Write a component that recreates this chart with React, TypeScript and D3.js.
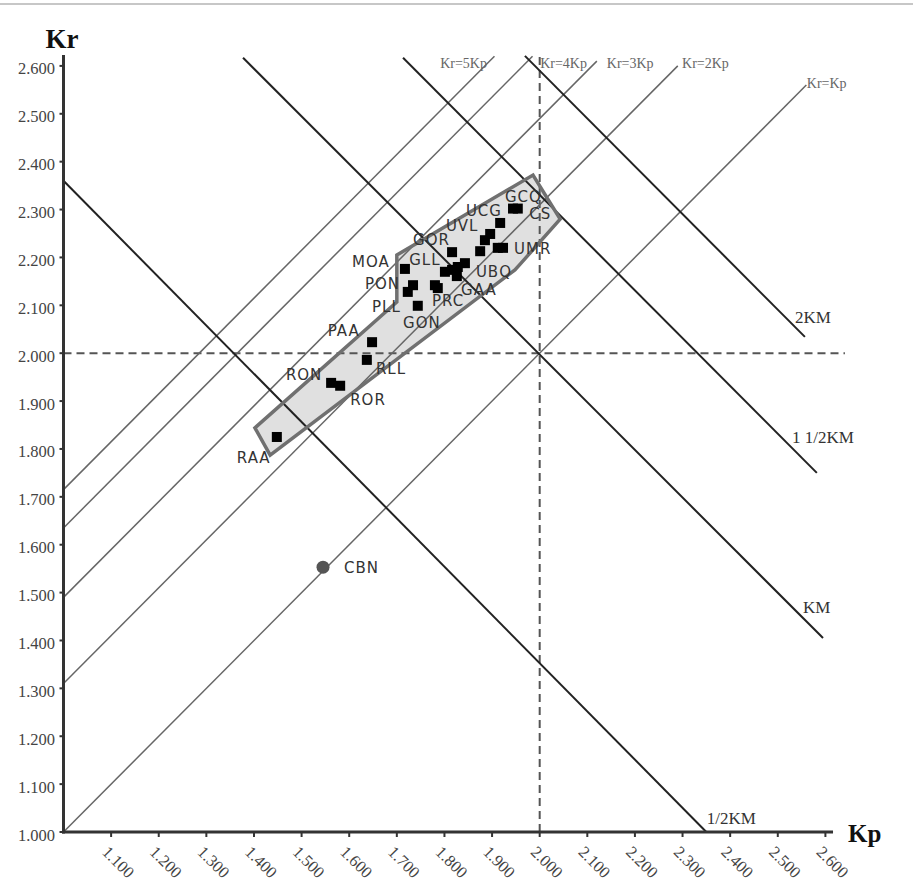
import React from "react";
import * as d3 from "d3";

// ---------- DATA ----------
const yTicks = [1.0, 1.1, 1.2, 1.3, 1.4, 1.5, 1.6, 1.7, 1.8, 1.9, 2.0, 2.1, 2.2, 2.3, 2.4, 2.5, 2.6];
const xTicks = [1.1, 1.2, 1.3, 1.4, 1.5, 1.6, 1.7, 1.8, 1.9, 2.0, 2.1, 2.2, 2.3, 2.4, 2.5, 2.6];

// squares: Kp, Kr
const pointKp = [1.448, 1.562, 1.581, 1.637, 1.648, 1.744, 1.723, 1.734, 1.717, 1.780, 1.786, 1.801, 1.816, 1.826, 1.828, 1.843, 1.816, 1.875, 1.885, 1.896, 1.917, 1.912, 1.923, 1.944, 1.954];
const pointKr = [1.825, 1.938, 1.932, 1.986, 2.023, 2.099, 2.128, 2.142, 2.176, 2.142, 2.136, 2.170, 2.174, 2.161, 2.180, 2.188, 2.211, 2.213, 2.236, 2.249, 2.272, 2.220, 2.220, 2.302, 2.302];

// CBN circle
const cbnPoint = { kp: 1.545, kr: 1.553, name: "CBN" };

// labels (anchor in Kp/Kr space, left / middle)
const labelNames = ["GCQ", "CS", "UCG", "UVL", "GOR", "UMR", "MOA", "GLL", "UBQ", "PON", "GAA", "PRC", "PLL", "GON", "PAA", "RLL", "RON", "ROR", "RAA", "CBN"];
const labelKp = [1.927, 1.978, 1.845, 1.803, 1.734, 1.946, 1.606, 1.726, 1.866, 1.633, 1.835, 1.774, 1.648, 1.713, 1.555, 1.656, 1.467, 1.602, 1.364, 1.589];
const labelKr = [2.326, 2.291, 2.297, 2.266, 2.237, 2.218, 2.190, 2.195, 2.170, 2.145, 2.132, 2.109, 2.096, 2.063, 2.046, 1.967, 1.954, 1.902, 1.781, 1.551];

// envelope polygon
const envelopeKp = [1.402, 1.434, 1.948, 1.959, 2.043, 1.986, 1.700, 1.700];
const envelopeKr = [1.844, 1.787, 2.174, 2.186, 2.280, 2.372, 2.205, 2.107];

// Kr = n Kp lines (gray)
const krLineNames = ["Kr=Kp", "Kr=2Kp", "Kr=3Kp", "Kr=4Kp", "Kr=5Kp"];
const krLineStart = [[1.0, 1.0], [1.0, 1.31], [1.0, 1.49], [1.0, 1.635], [1.0, 1.715]];
const krLineEnd = [[2.56, 2.56], [2.29, 2.6], [2.12, 2.61], [1.985, 2.62], [1.905, 2.62]];
const krLabelPos = [[2.561, 2.564], [2.299, 2.604], [2.141, 2.604], [2.001, 2.604], [1.791, 2.604]];

// KM lines (dark)
const kmNames = ["1/2KM", "KM", "1 1/2KM", "2KM"];
const kmStart = [[1.0, 2.36], [1.377, 2.617], [1.713, 2.617], [1.969, 2.621]];
const kmEnd = [[2.35, 1.0], [2.595, 1.405], [2.582, 1.75], [2.557, 2.034]];
const kmLabelPos = [[2.351, 1.028], [2.553, 1.468], [2.530, 1.823], [2.536, 2.074]];

// reference dashed lines
const refKp = 2.0;
const refKr = 2.0;

export default function App() {
  const x = d3.scaleLinear().domain([1.0, 2.6]).range([63.5, 825.4]);
  const y = d3.scaleLinear().domain([1.0, 2.6]).range([832, 65.9]);
  const fmt = d3.format(".3f");
  const serif = "'Liberation Serif', 'Times New Roman', serif";
  const sans = "'DejaVu Sans', Verdana, sans-serif";

  const polyPath = d3.line<number>()
    .x((_, i) => x(envelopeKp[i]))
    .y((_, i) => y(envelopeKr[i]))
    .curve(d3.curveLinearClosed)(envelopeKp);

  const seg = (a: number[], b: number[]) => `M${x(a[0])},${y(a[1])}L${x(b[0])},${y(b[1])}`;

  return (
    <div style={{ position: "absolute", left: 0, top: 0 }}>
      <svg width={913} height={884} style={{ display: "block", background: "#fff" }}>
        <line x1={0} x2={913} y1={4} y2={4} stroke="#b5b5b5" strokeWidth={1.5} />

        {/* envelope fill */}
        <path d={polyPath || ""} fill="#e0e0e0" stroke="none" />

        {/* dashed ref lines */}
        <line x1={x(1.0)} x2={x(2.641)} y1={y(refKr)} y2={y(refKr)} stroke="#555" strokeWidth={2} strokeDasharray="8,5" />
        <line x1={x(refKp)} x2={x(refKp)} y1={y(1.0)} y2={y(2.623)} stroke="#555" strokeWidth={2} strokeDasharray="8,5" />

        {/* Kr = nKp lines */}
        {krLineNames.map((n, i) => (
          <path key={n} d={seg(krLineStart[i], krLineEnd[i])} stroke="#666" strokeWidth={1.5} fill="none" />
        ))}
        {krLineNames.map((n, i) => (
          <text key={"l" + n} x={x(krLabelPos[i][0])} y={y(krLabelPos[i][1])} dominantBaseline="central"
            fontFamily={serif} fontSize={14} fill="#666">{n}</text>
        ))}

        {/* KM lines */}
        {kmNames.map((n, i) => (
          <path key={n} d={seg(kmStart[i], kmEnd[i])} stroke="#222" strokeWidth={2} fill="none" />
        ))}
        {kmNames.map((n, i) => (
          <text key={"k" + n} x={x(kmLabelPos[i][0])} y={y(kmLabelPos[i][1])} dominantBaseline="central"
            fontFamily={serif} fontSize={17} fill="#333">{n}</text>
        ))}

        {/* envelope stroke */}
        <path d={polyPath || ""} fill="none" stroke="#707070" strokeWidth={3.5} strokeLinejoin="miter" />

        {/* points */}
        {pointKp.map((kp, i) => (
          <rect key={"p" + i} x={x(kp) - 5} y={y(pointKr[i]) - 5} width={10} height={10} fill="#000" />
        ))}
        <circle cx={x(cbnPoint.kp)} cy={y(cbnPoint.kr)} r={6.5} fill="#555" />

        {labelNames.map((n, i) => (
          <text key={"t" + n} x={x(labelKp[i])} y={y(labelKr[i])} dominantBaseline="central"
            fontFamily={sans} fontSize={15} letterSpacing={1} fill="#333">{n}</text>
        ))}

        {/* axes */}
        <line x1={x(1.0)} x2={x(1.0)} y1={y(1.0) + 1.5} y2={y(2.623)} stroke="#333" strokeWidth={3} />
        <line x1={x(1.0) - 1.5} x2={x(2.616)} y1={y(1.0)} y2={y(1.0)} stroke="#333" strokeWidth={3} />

        {yTicks.map((v) => (
          <g key={"y" + v}>
            <line x1={x(1.0) - 4} x2={x(1.0)} y1={y(v)} y2={y(v)} stroke="#333" strokeWidth={2} />
            <text x={55} y={y(v) + 3} textAnchor="end" dominantBaseline="central" fontFamily={serif} fontSize={16.5} fill="#444">{fmt(v)}</text>
          </g>
        ))}
        {xTicks.map((v) => (
          <g key={"x" + v}>
            <line x1={x(v)} x2={x(v)} y1={y(1.0)} y2={y(1.0) + 5} stroke="#333" strokeWidth={2} />
            <text transform={`translate(${x(v) - 6},${849}) rotate(45)`} dominantBaseline="central" fontFamily={serif} fontSize={16.5} fill="#444">{fmt(v)}</text>
          </g>
        ))}

        <text x={62} y={48} textAnchor="middle" fontFamily={serif} fontSize={27} fontWeight="bold" fill="#111">Kr</text>
        <text x={848} y={842} fontFamily={serif} fontSize={25} fontWeight="bold" fill="#111">Kp</text>
      </svg>
    </div>
  );
}
